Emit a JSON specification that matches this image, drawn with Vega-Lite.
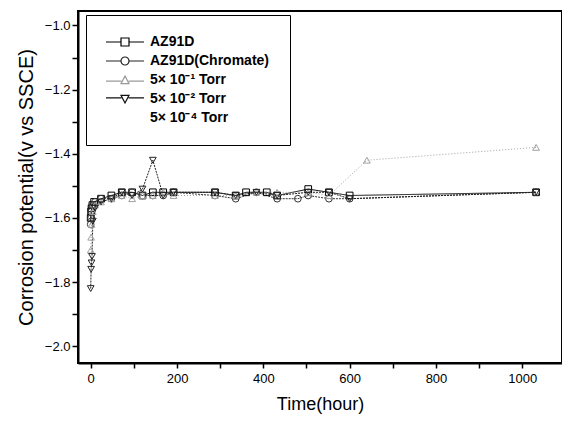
{
  "$schema": "https://vega.github.io/schema/vega-lite/v6.json",
  "width": 484,
  "height": 352,
  "autosize": {"type": "none"},
  "padding": {"left": 78, "top": 11, "right": 0, "bottom": 60},
  "background": "white",
  "config": {
    "view": {"stroke": "black", "strokeWidth": 2},
    "font": "Liberation Sans"
  },
  "data": {
    "values": [
      {"series": "AZ91D", "t": 0, "v": -1.60},
      {"series": "AZ91D", "t": 1, "v": -1.58},
      {"series": "AZ91D", "t": 2, "v": -1.57},
      {"series": "AZ91D", "t": 4, "v": -1.56},
      {"series": "AZ91D", "t": 8, "v": -1.55},
      {"series": "AZ91D", "t": 24, "v": -1.54},
      {"series": "AZ91D", "t": 48, "v": -1.53},
      {"series": "AZ91D", "t": 72, "v": -1.52},
      {"series": "AZ91D", "t": 96, "v": -1.52},
      {"series": "AZ91D", "t": 120, "v": -1.53},
      {"series": "AZ91D", "t": 144, "v": -1.52},
      {"series": "AZ91D", "t": 168, "v": -1.52},
      {"series": "AZ91D", "t": 192, "v": -1.52},
      {"series": "AZ91D", "t": 288, "v": -1.52},
      {"series": "AZ91D", "t": 336, "v": -1.53},
      {"series": "AZ91D", "t": 360, "v": -1.52},
      {"series": "AZ91D", "t": 408, "v": -1.52},
      {"series": "AZ91D", "t": 432, "v": -1.53},
      {"series": "AZ91D", "t": 504, "v": -1.51},
      {"series": "AZ91D", "t": 552, "v": -1.52},
      {"series": "AZ91D", "t": 600, "v": -1.53},
      {"series": "AZ91D", "t": 1032, "v": -1.52},
      {"series": "AZ91D(Chromate)", "t": 0, "v": -1.62},
      {"series": "AZ91D(Chromate)", "t": 1, "v": -1.60},
      {"series": "AZ91D(Chromate)", "t": 2, "v": -1.58},
      {"series": "AZ91D(Chromate)", "t": 5, "v": -1.56},
      {"series": "AZ91D(Chromate)", "t": 10, "v": -1.55},
      {"series": "AZ91D(Chromate)", "t": 24, "v": -1.54},
      {"series": "AZ91D(Chromate)", "t": 48, "v": -1.54},
      {"series": "AZ91D(Chromate)", "t": 72, "v": -1.53},
      {"series": "AZ91D(Chromate)", "t": 96, "v": -1.52},
      {"series": "AZ91D(Chromate)", "t": 120, "v": -1.53},
      {"series": "AZ91D(Chromate)", "t": 144, "v": -1.53},
      {"series": "AZ91D(Chromate)", "t": 168, "v": -1.53},
      {"series": "AZ91D(Chromate)", "t": 192, "v": -1.52},
      {"series": "AZ91D(Chromate)", "t": 288, "v": -1.53},
      {"series": "AZ91D(Chromate)", "t": 336, "v": -1.54},
      {"series": "AZ91D(Chromate)", "t": 384, "v": -1.52},
      {"series": "AZ91D(Chromate)", "t": 432, "v": -1.54},
      {"series": "AZ91D(Chromate)", "t": 480, "v": -1.54},
      {"series": "AZ91D(Chromate)", "t": 504, "v": -1.53},
      {"series": "AZ91D(Chromate)", "t": 552, "v": -1.54},
      {"series": "AZ91D(Chromate)", "t": 600, "v": -1.54},
      {"series": "AZ91D(Chromate)", "t": 1032, "v": -1.52},
      {"series": "5× 10⁻¹ Torr", "t": 0, "v": -1.70},
      {"series": "5× 10⁻¹ Torr", "t": 1, "v": -1.66},
      {"series": "5× 10⁻¹ Torr", "t": 2, "v": -1.62},
      {"series": "5× 10⁻¹ Torr", "t": 5, "v": -1.58},
      {"series": "5× 10⁻¹ Torr", "t": 10, "v": -1.56},
      {"series": "5× 10⁻¹ Torr", "t": 24, "v": -1.55},
      {"series": "5× 10⁻¹ Torr", "t": 48, "v": -1.54},
      {"series": "5× 10⁻¹ Torr", "t": 72, "v": -1.53},
      {"series": "5× 10⁻¹ Torr", "t": 96, "v": -1.54},
      {"series": "5× 10⁻¹ Torr", "t": 120, "v": -1.53},
      {"series": "5× 10⁻¹ Torr", "t": 144, "v": -1.53},
      {"series": "5× 10⁻¹ Torr", "t": 168, "v": -1.52},
      {"series": "5× 10⁻¹ Torr", "t": 192, "v": -1.53},
      {"series": "5× 10⁻¹ Torr", "t": 288, "v": -1.53},
      {"series": "5× 10⁻¹ Torr", "t": 336, "v": -1.53},
      {"series": "5× 10⁻¹ Torr", "t": 384, "v": -1.52},
      {"series": "5× 10⁻¹ Torr", "t": 432, "v": -1.52},
      {"series": "5× 10⁻¹ Torr", "t": 504, "v": -1.52},
      {"series": "5× 10⁻¹ Torr", "t": 552, "v": -1.53},
      {"series": "5× 10⁻¹ Torr", "t": 640, "v": -1.42},
      {"series": "5× 10⁻¹ Torr", "t": 1032, "v": -1.38},
      {"series": "5× 10⁻² Torr", "t": 0, "v": -1.82},
      {"series": "5× 10⁻² Torr", "t": 1, "v": -1.76},
      {"series": "5× 10⁻² Torr", "t": 2, "v": -1.74},
      {"series": "5× 10⁻² Torr", "t": 3, "v": -1.72},
      {"series": "5× 10⁻² Torr", "t": 5, "v": -1.61},
      {"series": "5× 10⁻² Torr", "t": 10, "v": -1.57},
      {"series": "5× 10⁻² Torr", "t": 24, "v": -1.55},
      {"series": "5× 10⁻² Torr", "t": 48, "v": -1.54},
      {"series": "5× 10⁻² Torr", "t": 72, "v": -1.52},
      {"series": "5× 10⁻² Torr", "t": 96, "v": -1.53},
      {"series": "5× 10⁻² Torr", "t": 120, "v": -1.51},
      {"series": "5× 10⁻² Torr", "t": 144, "v": -1.42},
      {"series": "5× 10⁻² Torr", "t": 168, "v": -1.53},
      {"series": "5× 10⁻² Torr", "t": 192, "v": -1.52},
      {"series": "5× 10⁻² Torr", "t": 288, "v": -1.52},
      {"series": "5× 10⁻² Torr", "t": 336, "v": -1.53},
      {"series": "5× 10⁻² Torr", "t": 384, "v": -1.52},
      {"series": "5× 10⁻² Torr", "t": 432, "v": -1.53},
      {"series": "5× 10⁻² Torr", "t": 504, "v": -1.52},
      {"series": "5× 10⁻² Torr", "t": 552, "v": -1.52},
      {"series": "5× 10⁻² Torr", "t": 600, "v": -1.54},
      {"series": "5× 10⁻² Torr", "t": 1032, "v": -1.52}
    ]
  },
  "encoding": {
    "x": {
      "field": "t", "type": "quantitative",
      "scale": {"domain": [-29.4, 1092], "nice": false, "zero": false},
      "axis": {
        "title": "Time(hour)", "titleFontSize": 18, "titleFontWeight": "normal", "titlePadding": 10, "titleColor": "black",
        "values": [0, 100, 200, 300, 400, 500, 600, 700, 800, 900, 1000],
        "labelExpr": "datum.value % 200 == 0 ? datum.label : ''",
        "format": "d",
        "labelFontSize": 13, "labelColor": "black", "labelPadding": 4,
        "tickSize": 5, "tickColor": "black", "tickWidth": 1.5,
        "domainColor": "black", "domainWidth": 2, "grid": false
      }
    },
    "y": {
      "field": "v", "type": "quantitative",
      "scale": {"domain": [-2.052, -0.955], "nice": false, "zero": false},
      "axis": {
        "title": "Corrosion potential(v vs SSCE)", "titleFontSize": 20, "titleFontWeight": "normal", "titlePadding": 8, "titleColor": "black",
        "values": [-2.0, -1.9, -1.8, -1.7, -1.6, -1.5, -1.4, -1.3, -1.2, -1.1, -1.0],
        "labelExpr": "round(datum.value * 10) % 2 == 0 ? datum.label : ''",
        "format": ".1f",
        "labelFontSize": 13, "labelColor": "black", "labelPadding": 2,
        "tickSize": 6, "tickColor": "black", "tickWidth": 1.5,
        "domainColor": "black", "domainWidth": 2, "grid": false
      }
    }
  },
  "layer": [
    {
      "mark": {"type": "line", "strokeWidth": 1},
      "encoding": {
        "color": {
          "field": "series", "type": "nominal",
          "scale": {"domain": ["AZ91D", "AZ91D(Chromate)", "5× 10⁻¹ Torr", "5× 10⁻² Torr", "5× 10⁻⁴ Torr"],
                    "range": ["#000000", "#333333", "#a0a0a0", "#222222", "#ffffff"]},
          "legend": null
        },
        "strokeDash": {
          "field": "series", "type": "nominal",
          "scale": {"domain": ["AZ91D", "AZ91D(Chromate)", "5× 10⁻¹ Torr", "5× 10⁻² Torr", "5× 10⁻⁴ Torr"],
                    "range": [[1, 0], [2, 1], [1, 2], [2, 1], [1, 0]]},
          "legend": null
        },
        "order": {"field": "t"}
      }
    },
    {
      "mark": {"type": "point", "filled": false, "size": 45, "strokeWidth": 1, "opacity": 1},
      "encoding": {
        "color": {"field": "series", "type": "nominal", "legend": null},
        "shape": {
          "field": "series", "type": "nominal",
          "scale": {"domain": ["AZ91D", "AZ91D(Chromate)", "5× 10⁻¹ Torr", "5× 10⁻² Torr", "5× 10⁻⁴ Torr"],
                    "range": ["square", "circle", "triangle-up", "triangle-down", "circle"]},
          "legend": null
        }
      }
    },
    {
      "transform": [{"filter": "datum.t < -9999"}],
      "mark": {"type": "point", "filled": false, "strokeWidth": 1.2, "opacity": 1},
      "encoding": {
        "shape": {
          "field": "series", "type": "nominal",
          "scale": {"domain": ["AZ91D", "AZ91D(Chromate)", "5× 10⁻¹ Torr", "5× 10⁻² Torr", "5× 10⁻⁴ Torr"],
                    "range": [
                      "M-4.75,0H-1M1,0H4.75M-1,-1H1V1H-1Z",
                      "M-4.75,0H-1M1,0H4.75M-1,0A1,1,0,1,1,1,0A1,1,0,1,1,-1,0Z",
                      "M-4.75,0.3H-0.9M0.9,0.3H4.75M0,-1L1,0.9H-1Z",
                      "M-4.75,-0.3H-0.9M0.9,-0.3H4.75M0,1L1,-0.9H-1Z",
                      "M0,0"
                    ]},
          "legend": {
            "orient": "none", "legendX": 8, "legendY": 4,
            "title": null,
            "strokeColor": "black", "fillColor": "white", "padding": 20,
            "symbolSize": 64, "symbolStrokeWidth": 1.2, "symbolFillColor": "white", "symbolOpacity": 1,
            "symbolOffset": 12, "labelOffset": 18,
            "labelFont": "Liberation Sans", "labelFontSize": 14, "labelFontWeight": "bold", "labelColor": "black",
            "rowPadding": 5, "labelLimit": 300
          }
        },
        "stroke": {
          "field": "series", "type": "nominal",
          "scale": {"domain": ["AZ91D", "AZ91D(Chromate)", "5× 10⁻¹ Torr", "5× 10⁻² Torr", "5× 10⁻⁴ Torr"],
                    "range": ["#000000", "#222222", "#999999", "#111111", "#ffffff"]}
        }
      }
    }
  ],
  "resolve": {"scale": {"shape": "independent", "stroke": "independent"}}
}
